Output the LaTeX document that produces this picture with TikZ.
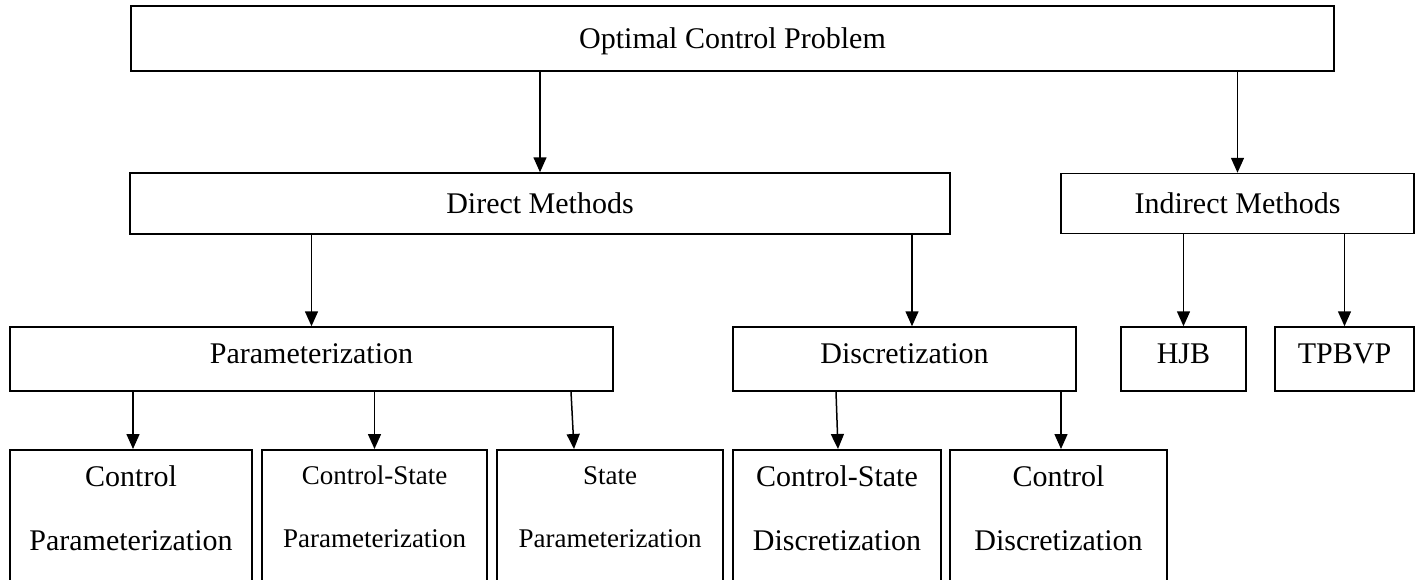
\documentclass[tikz,border=0pt]{standalone}
\usepackage{fontspec}
\setmainfont{Liberation Serif}
\usetikzlibrary{arrows.meta,calc}
\begin{document}
\begin{tikzpicture}[x=1pt,y=-1pt,
  box/.style={draw, line width=1.5pt, rectangle, inner sep=0pt, text height=21pt, text depth=2pt, font=\fontsize{30}{36}\selectfont},
  rowthree/.style={box, text depth=12pt, minimum height=64pt},
  arr/.style={line width=1.5pt, -{Triangle[width=13pt,length=15pt]}},
  bigtxt/.style={font=\fontsize{30}{36}\selectfont, inner sep=0pt, anchor=base},
  smalltxt/.style={font=\fontsize{27}{32}\selectfont, inner sep=0pt, anchor=base},
  lowbox/.style={draw, line width=1.5pt, rectangle, inner sep=0pt, anchor=north, minimum height=200pt}]
\useasboundingbox (0,0) rectangle (1417,579);
\clip (0,0) rectangle (1417,579);

% level 1
\node[box, minimum width=1203pt, minimum height=65pt] (ocp) at (732.5,38.5) {Optimal Control Problem};
% level 2
\node[box, minimum width=820pt, minimum height=61pt] (dm) at (540,203.5) {Direct Methods};
\node[box, minimum width=353pt, minimum height=60pt] (im) at (1237.5,203.5) {Indirect Methods};
% level 3
\node[rowthree, minimum width=603pt] (par) at (311.5,359) {Parameterization};
\node[rowthree, minimum width=343pt] (disc) at (904.5,359) {Discretization};
\node[rowthree, minimum width=125pt] (hjb) at (1183.5,359) {HJB};
\node[rowthree, minimum width=139pt] (tpb) at (1344.5,359) {TPBVP};
% level 4
\node[lowbox, minimum width=242pt] (cp) at (131,449) {};
\node[lowbox, minimum width=225pt] (csp) at (374.5,449) {};
\node[lowbox, minimum width=226pt] (sp) at (610,449) {};
\node[lowbox, minimum width=208pt] (csd) at (837,449) {};
\node[lowbox, minimum width=217pt] (cd) at (1058.5,449) {};

\node[bigtxt] (cp1) at (131,486) {Control};
\node[bigtxt] (cp2) at (131,550) {Parameterization};
\node[smalltxt] (csp1) at (374.5,484) {Control-State};
\node[smalltxt] (csp2) at (374.5,547) {Parameterization};
\node[smalltxt] (sp1) at (610,484) {State};
\node[smalltxt] (sp2) at (610,547) {Parameterization};
\node[bigtxt] (csd1) at (837,486) {Control-State};
\node[bigtxt] (csd2) at (837,550) {Discretization};
\node[bigtxt] (cd1) at (1058.5,486) {Control};
\node[bigtxt] (cd2) at (1058.5,550) {Discretization};

% connectors
\draw[arr] (ocp.south -| dm.north) -- (dm.north);
\draw[arr] (ocp.south -| im.north) -- (im.north);
\draw[arr] (dm.south -| par.north) -- (par.north);
\draw[arr] ($(disc.north |- dm.south)+(7.5,0)$) -- ($(disc.north)+(7.5,0)$);
\draw[arr] (im.south -| hjb.north) -- (hjb.north);
\draw[arr] (im.south -| tpb.north) -- (tpb.north);
\draw[arr] ($(cp.north |- par.south)+(2,0)$) -- ($(cp.north)+(2,0)$);
\draw[arr] (par.south -| csp.north) -- (csp.north);
\draw[arr] ($(sp.north |- par.south)+(-39,0)$) -- ($(sp.north)+(-36,0)$);
\draw[arr] ($(csd.north |- disc.south)+(-1,0)$) -- ($(csd.north)+(1,0)$);
\draw[arr] ($(cd.north |- disc.south)+(2.5,0)$) -- ($(cd.north)+(2.5,0)$);
\end{tikzpicture}
\end{document}
